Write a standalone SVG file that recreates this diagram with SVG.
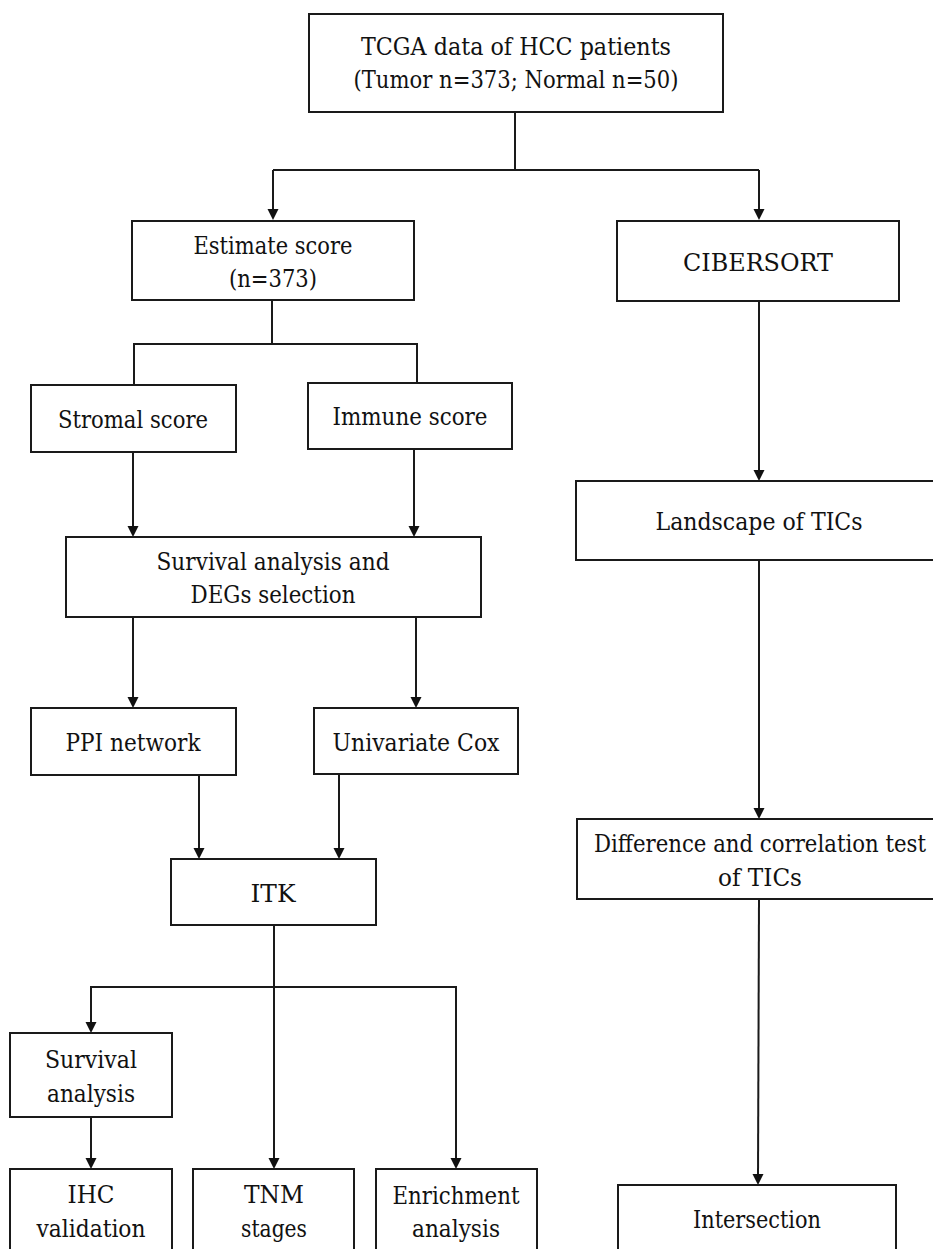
<svg xmlns="http://www.w3.org/2000/svg" width="933" height="1249" viewBox="0 0 933 1249">
<style>
rect{fill:#fff;stroke:#1a1a1a;stroke-width:2}
text{font-family:'DejaVu Serif','Liberation Serif',serif;font-size:24.5px;fill:#111;text-anchor:middle}
.c path,.c line{stroke:#1a1a1a;stroke-width:2;fill:none}
</style>
<defs>
<path id="ah" d="M-5.5,-11 H5.5 L0,0 Z" fill="#111"/>
</defs>
<rect x="0" y="0" width="933" height="1249" style="stroke:none"/>
<g class="c" id="connectors">
<line x1="515" y1="112" x2="515" y2="170"/>
<path d="M273,170 H759"/>
<line x1="273" y1="170" x2="273" y2="212"/>
<line x1="759" y1="170" x2="759" y2="212"/>
<line x1="272" y1="300" x2="272" y2="344"/>
<path d="M134,385 V344 H417 V383"/>
<line x1="133" y1="452" x2="133" y2="529"/>
<line x1="414" y1="449" x2="414" y2="529"/>
<line x1="133" y1="617" x2="133" y2="700"/>
<line x1="416" y1="617" x2="416" y2="700"/>
<line x1="199" y1="775" x2="199" y2="851"/>
<line x1="339" y1="774" x2="339" y2="851"/>
<line x1="274" y1="925" x2="274" y2="1161"/>
<path d="M91,1025 V987 H456 V1161"/>
<line x1="91" y1="1117" x2="91" y2="1161"/>
<line x1="759" y1="301" x2="759" y2="473"/>
<line x1="759" y1="560" x2="759" y2="811"/>
<line x1="759" y1="899" x2="758" y2="1177"/>
<g id="arrowheads">
<use href="#ah" x="273" y="220"/>
<use href="#ah" x="759" y="220"/>
<use href="#ah" x="133" y="537"/>
<use href="#ah" x="414" y="537"/>
<use href="#ah" x="133" y="708"/>
<use href="#ah" x="416" y="708"/>
<use href="#ah" x="199" y="859"/>
<use href="#ah" x="339" y="859"/>
<use href="#ah" x="91" y="1033"/>
<use href="#ah" x="91" y="1169"/>
<use href="#ah" x="274" y="1169"/>
<use href="#ah" x="456" y="1169"/>
<use href="#ah" x="759" y="481"/>
<use href="#ah" x="759" y="819"/>
<use href="#ah" x="758" y="1185"/>
</g>
</g>
<g>
<g id="n-tcga"><rect x="309" y="14" width="414" height="98"/><text x="516" y="55" textLength="310" lengthAdjust="spacingAndGlyphs">TCGA data of HCC patients</text><text x="516" y="88" textLength="325" lengthAdjust="spacingAndGlyphs">(Tumor n=373; Normal n=50)</text></g>
<g id="n-estimate"><rect x="132" y="221" width="282" height="79"/><text x="273" y="254" textLength="159" lengthAdjust="spacingAndGlyphs">Estimate score</text><text x="273" y="287" textLength="88" lengthAdjust="spacingAndGlyphs">(n=373)</text></g>
<g id="n-cibersort"><rect x="617" y="221" width="282" height="80"/><text x="758" y="271" textLength="150" lengthAdjust="spacingAndGlyphs">CIBERSORT</text></g>
<g id="n-stromal"><rect x="31" y="385" width="205" height="67"/><text x="133" y="428" textLength="150" lengthAdjust="spacingAndGlyphs">Stromal score</text></g>
<g id="n-immune"><rect x="308" y="383" width="204" height="66"/><text x="410" y="425" textLength="155" lengthAdjust="spacingAndGlyphs">Immune score</text></g>
<g id="n-survival-deg"><rect x="66" y="537" width="415" height="80"/><text x="273" y="570" textLength="233" lengthAdjust="spacingAndGlyphs">Survival analysis and</text><text x="273" y="603" textLength="165" lengthAdjust="spacingAndGlyphs">DEGs selection</text></g>
<g id="n-landscape"><rect x="576" y="481" width="366" height="79"/><text x="759" y="530" textLength="207" lengthAdjust="spacingAndGlyphs">Landscape of TICs</text></g>
<g id="n-ppi"><rect x="31" y="708" width="205" height="67"/><text x="133" y="751" textLength="135" lengthAdjust="spacingAndGlyphs">PPI network</text></g>
<g id="n-cox"><rect x="314" y="708" width="204" height="66"/><text x="416" y="751" textLength="167" lengthAdjust="spacingAndGlyphs">Univariate Cox</text></g>
<g id="n-diff"><rect x="577" y="819" width="366" height="80"/><text x="760" y="852" textLength="332" lengthAdjust="spacingAndGlyphs">Difference and correlation test</text><text x="760" y="886" textLength="84" lengthAdjust="spacingAndGlyphs">of TICs</text></g>
<g id="n-itk"><rect x="171" y="859" width="205" height="66"/><text x="273" y="902" textLength="45" lengthAdjust="spacingAndGlyphs">ITK</text></g>
<g id="n-survival"><rect x="10" y="1033" width="162" height="84"/><text x="91" y="1068" textLength="92" lengthAdjust="spacingAndGlyphs">Survival</text><text x="91" y="1102" textLength="88" lengthAdjust="spacingAndGlyphs">analysis</text></g>
<g id="n-ihc"><rect x="10" y="1169" width="162" height="100"/><text x="91" y="1203" textLength="47" lengthAdjust="spacingAndGlyphs">IHC</text><text x="91" y="1237" textLength="109" lengthAdjust="spacingAndGlyphs">validation</text></g>
<g id="n-tnm"><rect x="193" y="1169" width="161" height="100"/><text x="274" y="1203" textLength="60" lengthAdjust="spacingAndGlyphs">TNM</text><text x="274" y="1237" textLength="66" lengthAdjust="spacingAndGlyphs">stages</text></g>
<g id="n-enrich"><rect x="376" y="1169" width="161" height="100"/><text x="456" y="1204" textLength="127" lengthAdjust="spacingAndGlyphs">Enrichment</text><text x="456" y="1237" textLength="88" lengthAdjust="spacingAndGlyphs">analysis</text></g>
<g id="n-intersection"><rect x="618" y="1185" width="278" height="84"/><text x="757" y="1228" textLength="128" lengthAdjust="spacingAndGlyphs">Intersection</text></g>
</g>
</svg>
